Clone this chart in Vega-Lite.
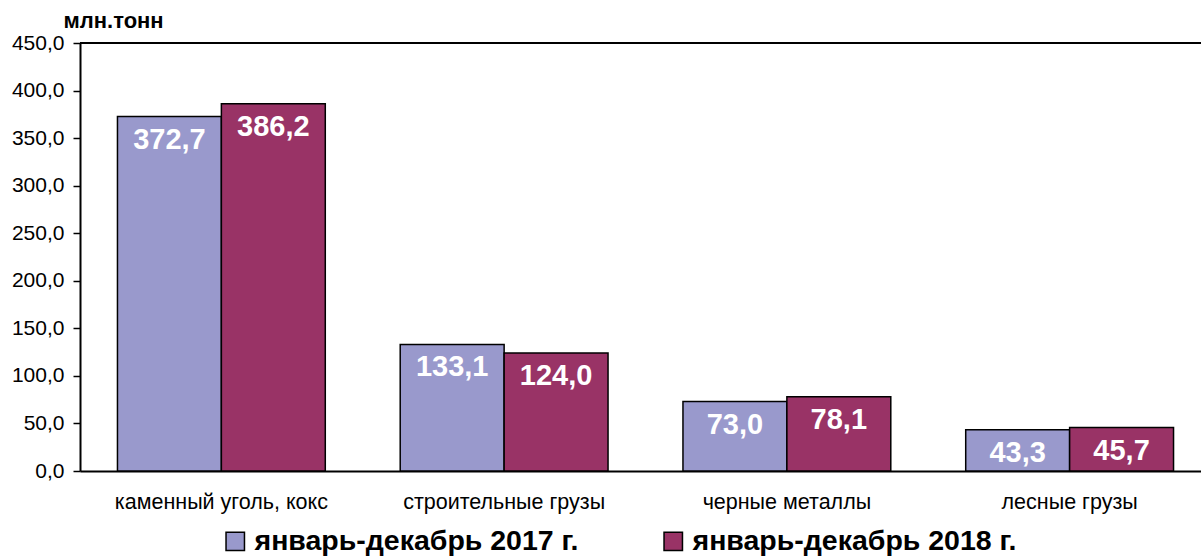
{
  "$schema": "https://vega.github.io/schema/vega-lite/v6.json",
  "width": 1121,
  "height": 428,
  "autosize": {"type": "none"},
  "padding": {"left": 80, "top": 43, "right": 0, "bottom": 87},
  "background": "white",
  "config": {
    "view": {"stroke": null},
    "font": "Liberation Sans",
    "locale": {"number": {"decimal": ",", "thousands": " ", "grouping": [3], "currency": ["", ""]}}
  },
  "data": {
    "values": [
      {"cat": "каменный уголь, кокс", "period": "январь-декабрь 2017 г.", "value": 372.7},
      {"cat": "каменный уголь, кокс", "period": "январь-декабрь 2018 г.", "value": 386.2},
      {"cat": "строительные грузы", "period": "январь-декабрь 2017 г.", "value": 133.1},
      {"cat": "строительные грузы", "period": "январь-декабрь 2018 г.", "value": 124.0},
      {"cat": "черные металлы", "period": "январь-декабрь 2017 г.", "value": 73.0},
      {"cat": "черные металлы", "period": "январь-декабрь 2018 г.", "value": 78.1},
      {"cat": "лесные грузы", "period": "январь-декабрь 2017 г.", "value": 43.3},
      {"cat": "лесные грузы", "period": "январь-декабрь 2018 г.", "value": 45.7}
    ]
  },
  "encoding": {
    "x": {
      "field": "cat", "type": "nominal", "sort": null,
      "scale": {"range": [0, 1131], "paddingInner": 0.265, "paddingOuter": 0.1325},
      "axis": {"title": null, "labelAngle": 0, "labelFontSize": 21.5, "labelColor": "black", "ticks": false, "domainColor": "black", "domainWidth": 2, "labelPadding": 31, "labelBaseline": "middle", "labelLimit": 400}
    },
    "xOffset": {"field": "period", "type": "nominal", "scale": {"paddingInner": 0, "paddingOuter": 0}},
    "y": {
      "field": "value", "type": "quantitative",
      "scale": {"domain": [0, 450], "nice": false},
      "axis": {"values": [0, 50, 100, 150, 200, 250, 300, 350, 400, 450], "format": ".1f", "grid": false, "domainColor": "black", "domainWidth": 2, "tickColor": "black", "tickWidth": 1.5, "tickSize": 7, "labelFontSize": 21, "labelColor": "black", "labelPadding": 9,
        "title": "млн.тонн", "titleAngle": 0, "titleX": -17, "titleY": -16, "titleAlign": "left", "titleBaseline": "alphabetic", "titleFontSize": 22, "titleFontWeight": "bold", "titleColor": "black"}
    }
  },
  "layer": [
    {
      "mark": {"type": "bar", "stroke": "black", "strokeWidth": 1.5, "opacity": 1},
      "encoding": {
        "color": {
          "field": "period", "type": "nominal",
          "scale": {"range": ["#9999cc", "#993366"]},
          "legend": {"title": null, "orient": "none", "direction": "horizontal", "legendX": 141, "legendY": 484, "symbolType": "square", "symbolSize": 340, "symbolStrokeColor": "black", "symbolStrokeWidth": 1.5, "symbolOpacity": 1, "labelFontSize": 28.5, "labelFontWeight": "bold", "labelColor": "black", "labelLimit": 500, "columnPadding": 80, "labelOffset": 5}
        }
      }
    },
    {
      "mark": {"type": "text", "color": "white", "fontSize": 29, "fontWeight": "bold", "baseline": "middle", "dy": 23},
      "encoding": {"text": {"field": "value", "type": "quantitative", "format": ".1f"}}
    },
    {
      "mark": {"type": "rule", "color": "black", "strokeWidth": 2},
      "encoding": {"y": {"datum": 450}, "x": null, "xOffset": null}
    }
  ]
}
